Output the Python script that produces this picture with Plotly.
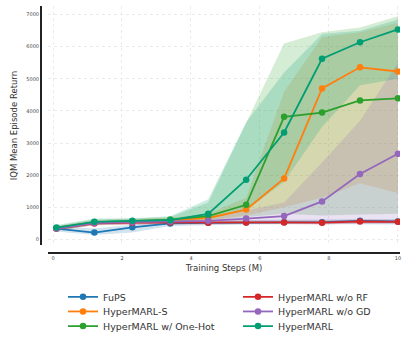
import plotly.graph_objects as go

steps = [0.1, 1.2, 2.3, 3.4, 4.5, 5.6, 6.7, 7.8, 8.9, 10.0]

names = ["FuPS", "HyperMARL-S", "HyperMARL w/ One-Hot", "HyperMARL w/o RF", "HyperMARL w/o GD", "HyperMARL"]
colors = ["#1f77b4", "#ff7f0e", "#2ca02c", "#d62728", "#9467bd", "#029e73"]

fups_mean = [340, 217, 378, 500, 520, 530, 540, 540, 580, 560]
fups_lo = [250, 140, 220, 420, 450, 470, 480, 470, 480, 470]
fups_hi = [420, 340, 460, 580, 600, 610, 620, 620, 650, 640]

s_mean = [350, 520, 560, 600, 670, 930, 1900, 4700, 5360, 5230]
s_lo = [280, 450, 480, 500, 580, 750, 1000, 1300, 1750, 1450]
s_hi = [420, 600, 630, 680, 800, 1300, 4600, 6300, 6450, 6750]

onehot_mean = [350, 540, 570, 620, 730, 1080, 3820, 3950, 4330, 4395]
onehot_lo = [280, 450, 480, 530, 600, 700, 800, 750, 780, 800]
onehot_hi = [420, 620, 650, 700, 1150, 3650, 6100, 6450, 6600, 6950]

rf_mean = [340, 500, 525, 530, 520, 530, 530, 525, 560, 550]
rf_lo = [290, 440, 470, 480, 470, 480, 480, 470, 500, 500]
rf_hi = [400, 560, 580, 590, 580, 590, 590, 590, 620, 610]

gd_mean = [340, 510, 540, 560, 580, 650, 730, 1185, 2040, 2670]
gd_lo = [280, 440, 470, 480, 500, 520, 500, 480, 500, 500]
gd_hi = [400, 570, 600, 630, 680, 900, 1150, 2400, 3700, 5500]

hm_mean = [370, 550, 580, 600, 800, 1860, 3330, 5625, 6140, 6540]
hm_lo = [280, 480, 500, 520, 650, 900, 1800, 3500, 4800, 5000]
hm_hi = [450, 650, 660, 720, 1250, 3650, 5200, 6400, 6500, 6850]

means = [fups_mean, s_mean, onehot_mean, rf_mean, gd_mean, hm_mean]
los = [fups_lo, s_lo, onehot_lo, rf_lo, gd_lo, hm_lo]
his = [fups_hi, s_hi, onehot_hi, rf_hi, gd_hi, hm_hi]

y_ticks = [0, 1000, 2000, 3000, 4000, 5000, 6000, 7000]
x_ticks = [0, 2, 4, 6, 8, 10]

W, H = 405, 341


def rgba(hex_color, a):
    h = hex_color.lstrip("#")
    r, g, b = int(h[0:2], 16), int(h[2:4], 16), int(h[4:6], 16)
    return f"rgba({r},{g},{b},{a})"


fig = go.Figure()

for name, c, lo, hi in zip(names, colors, los, his):
    fig.add_trace(go.Scatter(
        x=steps + steps[::-1], y=hi + lo[::-1], fill="toself",
        fillcolor=rgba(c, 0.2), line=dict(width=0), mode="lines",
        showlegend=False, hoverinfo="skip"))

legend_keys = ["legend", "legend2", "legend3", "legend4", "legend5", "legend6"]
for i, (name, c, m) in enumerate(zip(names, colors, means)):
    fig.add_trace(go.Scatter(
        x=steps, y=m, mode="lines+markers", name=name,
        line=dict(color=c, width=1.8),
        marker=dict(color=c, size=6.5),
        legend=legend_keys[i]))

grid = dict(showgrid=True, gridcolor="#ebebeb", griddash="dot", gridwidth=1, zeroline=False)

legend_layout = {}
col_x = [63 / W, 238 / W]
row_top = [290, 305, 320]
for i, key in enumerate(legend_keys):
    col, row = divmod(i, 3)
    legend_layout[key] = dict(
        x=col_x[col], y=1 - row_top[row] / H,
        xanchor="left", yanchor="top", orientation="v",
        font=dict(size=9.5, color="#333"), bgcolor="rgba(0,0,0,0)")

fig.update_layout(
    width=W, height=H,
    margin=dict(l=0, r=0, t=0, b=0),
    paper_bgcolor="white", plot_bgcolor="white",
    font=dict(family="DejaVu Sans", color="#333"),
    xaxis=dict(domain=[48 / W, 400 / W], anchor="free", position=1 - 260 / H,
               range=[-0.145, 10.06], tickvals=x_ticks,
               tickfont=dict(size=5, color="#444"),
               showline=True, linecolor="#222", linewidth=2,
               ticks="", title=dict(text="Training Steps (M)", font=dict(size=8.5, color="#333"), standoff=4),
               **grid),
    yaxis=dict(domain=[1 - 252 / H, 1 - 6 / H], anchor="free", position=41 / W,
               range=[-182, 7273], tickvals=y_ticks,
               tickfont=dict(size=5, color="#444"),
               showline=True, linecolor="#222", linewidth=2,
               ticks="", title=dict(text="IQM Mean Episode Return", font=dict(size=8.5, color="#333"), standoff=6),
               **grid),
    **legend_layout,
)

fig.write_html("out.html")
